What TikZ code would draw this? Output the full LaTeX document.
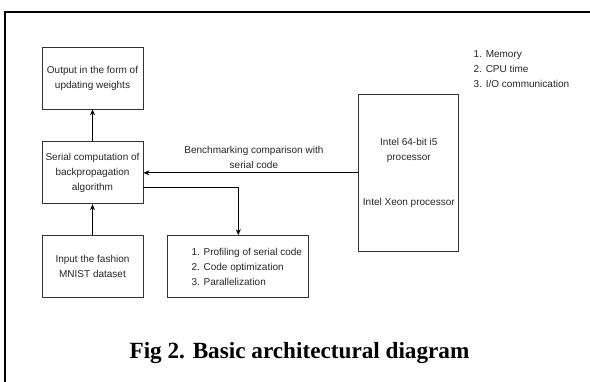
\documentclass[tikz,border=0pt]{standalone}
\usepackage{fontspec}
\setmainfont{Liberation Serif}
\setsansfont{Liberation Sans}
\usepackage{tikz}
\usetikzlibrary{arrows.meta, positioning}

\begin{document}
\begin{tikzpicture}[
    x=1pt, y=-1pt,
    block/.style={rectangle, draw=black!80, line width=0.8pt, minimum width=101pt, minimum height=62pt, align=center, inner sep=2pt},
    arrow/.style={-{Stealth[length=6pt, width=5pt]}, line width=0.8pt},
    label/.style={align=center},
    every node/.append style={font=\sffamily\fontsize{10}{15}\selectfont, text=black!85}
]
    \useasboundingbox (0,0) rectangle (590,382);
    % Frame
    \draw[line width=2pt] (5,382) -- (5,12) -- (590,12);

    % Blocks
    \node[block] (output) at (92.5,78) 			{Output in the form of\\updating weights};
    \node[block, below=32pt of output] (serial) 		{Serial computation of\\backpropagation\\algorithm};
    \node[block, below=31pt of serial] (input) 		{Input the fashion\\MNIST dataset};
    \node[block, right=24pt of input, minimum width=141pt, align=left] (profiling) 	{\hspace*{17pt}1. Profiling of serial code\\\hspace*{17pt}2. Code optimization\\\hspace*{17pt}3. Parallelization};
    \node[block, right=215pt of serial, minimum width=100pt, minimum height=157pt] (intel) {Intel 64-bit i5\\processor\\[30pt]Intel Xeon processor};
    \node[label, align=left, anchor=south west, above right=3pt and 11pt of intel.north east] (metrics) {1. Memory\\2. CPU time\\3. I/O communication};

    % Caption
    \node[font=\rmfamily\bfseries\fontsize{23.2}{27}\selectfont, text=black] (caption) at (299.5,353) {Fig 2. Basic architectural diagram};

    % Connections
    \draw[arrow] (serial) 	-- (output);
    \draw[arrow] (input) 	-- (serial);
    \draw[arrow] (intel) 	-- node[label, above, inner sep=3.5pt, xshift=3pt] {Benchmarking comparison with\\serial code} (serial);
    \draw[arrow] ([yshift=-14.5pt]serial.east) -| (profiling);
\end{tikzpicture}
\end{document}
